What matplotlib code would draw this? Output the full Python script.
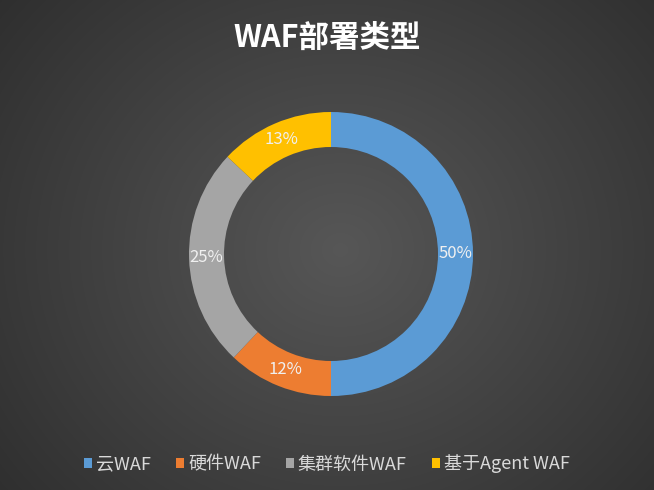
import numpy as np
import matplotlib
matplotlib.use("Agg")
import matplotlib.pyplot as plt

plt.rcParams['font.family'] = ['Noto Sans CJK SC', 'DejaVu Sans']

# data
categories = ["云WAF", "硬件WAF", "集群软件WAF", "基于Agent WAF"]
shares = [50, 12, 25, 13]
colors = ["#5b9bd5", "#ed7d31", "#a5a5a5", "#ffc000"]
title = "WAF部署类型"

W, H = 654, 490
fig = plt.figure(figsize=(W / 100, H / 100), dpi=100)

# radial gradient background
bg = fig.add_axes([0, 0, 1, 1])
yy, xx = np.mgrid[0:H, 0:W]
d = np.sqrt(((xx - 340) / 420.0) ** 2 + ((yy - 250) / 380.0) ** 2)
shade = np.clip(0.34 - 0.15 * d, 0.18, 0.345)
bg.imshow(np.dstack([shade] * 3), extent=(0, W, 0, H), aspect="auto")
bg.axis("off")

ax = fig.add_axes([0, 0, 1, 1])
ax.patch.set_alpha(0)

cx, cy, r = 331, H - 254, 142
ring = 35
wedges, _, autotexts = ax.pie(
    shares, colors=colors, startangle=90, counterclock=False,
    center=(cx, cy), radius=r, frame=True,
    wedgeprops=dict(width=ring, edgecolor="none"),
    autopct=lambda p: f"{p:.0f}%", pctdistance=(r - ring / 2) / r,
    textprops=dict(color="#f0f0f0", fontsize=12),
)
ax.set_xlim(0, W)
ax.set_ylim(0, H)
ax.set_aspect("equal")
ax.axis("off")

fig.text(0.5, 1 - 38 / H, title, ha="center", va="center",
         color="white", fontsize=22, fontweight="bold")

leg = fig.legend(wedges, categories, loc="center", bbox_to_anchor=(0.5, 26 / H),
                 ncol=4, frameon=False, fontsize=13, handlelength=0.45,
                 handleheight=0.45, handletextpad=0.2, columnspacing=1.4,
                 labelcolor="#d9d9d9")

fig.savefig("out.png", dpi=100)
